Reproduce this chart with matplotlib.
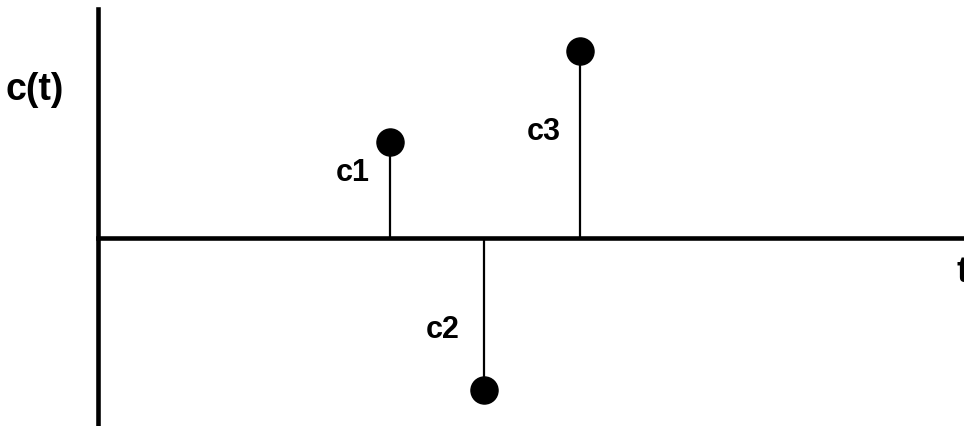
import matplotlib
matplotlib.use("Agg")
import matplotlib.pyplot as plt

# data
t_pos = [3.07, 4.06, 5.07]
c_vals = [1.0, -1.58, 1.95]
labels = ["c1", "c2", "c3"]
label_x = [2.684, 3.632, 4.695]
label_y = [0.604, -1.031, 1.031]

plt.rcParams['font.family'] = ['Liberation Sans', 'DejaVu Sans']

fig = plt.figure(figsize=(9.64, 4.27), dpi=100)
ax = fig.add_axes([0, 0, 1, 1])
ax.set_xlim(-98 / 95, (964 - 98) / 95)
ax.set_ylim(-188 / 96, (427 - 188) / 96)

markerline, stemlines, baseline = ax.stem(t_pos, c_vals, linefmt='k-', markerfmt='ko', basefmt=' ')
markerline.set_markersize(19.5)
markerline.set_zorder(4)
stemlines.set_linewidth(1.6)
stemlines.set_color('black')

# axes lines
for s in ['top', 'right']:
    ax.spines[s].set_visible(False)
ax.spines['left'].set_position(('data', 0))
ax.spines['bottom'].set_position(('data', 0))
ax.spines['left'].set_bounds(-188 / 96, (417 - 188) / 96)
ax.spines['bottom'].set_bounds(0, (964 - 98) / 95)
for s in ['left', 'bottom']:
    ax.spines[s].set_linewidth(3.3)
    ax.spines[s].set_color('black')
    ax.spines[s].set_zorder(3)
ax.set_xticks([])
ax.set_yticks([])

for lx, ly, lab in zip(label_x, label_y, labels):
    ax.text(lx, ly, lab, ha='center', va='baseline', fontsize=22, fontweight='bold')

ax.text(-0.663, 1.448, "c(t)", ha='center', va='baseline', fontsize=27, fontweight='bold')
ax.text(9.04, -0.448, "t", ha='left', va='baseline', fontsize=26, fontweight='bold', clip_on=False)

fig.savefig("out.png", dpi=100)
